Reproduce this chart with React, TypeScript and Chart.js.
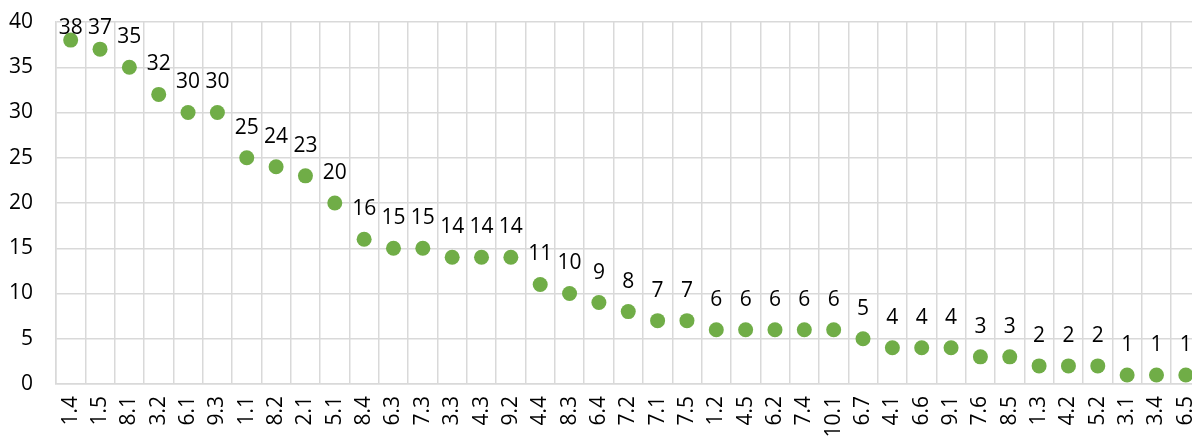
import React, { useEffect, useRef } from "react";
import { Chart, registerables } from "chart.js";

Chart.register(...registerables);

const categories: string[] = [
  "1.4", "1.5", "8.1", "3.2", "6.1", "9.3", "1.1", "8.2", "2.1", "5.1",
  "8.4", "6.3", "7.3", "3.3", "4.3", "9.2", "4.4", "8.3", "6.4", "7.2",
  "7.1", "7.5", "1.2", "4.5", "6.2", "7.4", "10.1", "6.7", "4.1", "6.6",
  "9.1", "7.6", "8.5", "1.3", "4.2", "5.2", "3.1", "3.4", "6.5",
];

const values: number[] = [
  38, 37, 35, 32, 30, 30, 25, 24, 23, 20,
  16, 15, 15, 14, 14, 14, 11, 10, 9, 8,
  7, 7, 6, 6, 6, 6, 6, 5, 4, 4,
  4, 3, 3, 2, 2, 2, 1, 1, 1,
];

const yTicks = { min: 0, max: 40, step: 5 };

const FONT = "'Open Sans', 'Noto Sans', sans-serif";
const FONT_SIZE = 21;
const GREEN = "#70AD47";
const GRID = "#d9d9d9";

const labelPlugin = {
  id: "pointLabels",
  afterDatasetsDraw(chart: any) {
    const ctx = chart.ctx;
    const meta = chart.getDatasetMeta(0);
    const ds = chart.data.datasets[0];
    ctx.save();
    ctx.font = `${FONT_SIZE}px ${FONT}`;
    ctx.fillStyle = "#000";
    ctx.textAlign = "center";
    ctx.textBaseline = "middle";
    meta.data.forEach((pt: any, i: number) => {
      const y = Math.max(pt.y - 30, chart.chartArea.top + 6);
      ctx.fillText(String(ds.data[i]), pt.x, y);
    });
    ctx.restore();
  },
};

const noPad = (s: any) => {
  s.paddingTop = 0;
  s.paddingBottom = 0;
  s.paddingLeft = 0;
  s.paddingRight = 0;
};

export default function App() {
  const ref = useRef<HTMLCanvasElement | null>(null);

  useEffect(() => {
    if (!ref.current) return;
    const chart = new Chart(ref.current, {
      type: "line",
      data: {
        labels: categories,
        datasets: [
          {
            data: values,
            showLine: false,
            pointRadius: 7.5,
            pointHoverRadius: 7.5,
            pointBackgroundColor: GREEN,
            pointBorderColor: GREEN,
            pointBorderWidth: 0,
            backgroundColor: GREEN,
            borderColor: GREEN,
          },
        ],
      },
      options: {
        responsive: false,
        animation: false,
        layout: { padding: { top: 22, left: 0, right: 0, bottom: 0 } },
        plugins: {
          legend: { display: false },
          tooltip: { enabled: false },
          title: { display: false },
        },
        scales: {
          x: {
            type: "category",
            offset: true,
            grid: { offset: true, color: GRID, lineWidth: 1.5, drawTicks: false },
            border: { color: GRID, width: 1.5 },
            ticks: {
              autoSkip: false,
              minRotation: 90,
              maxRotation: 90,
              padding: 12,
              color: "#000",
              font: { family: FONT, size: FONT_SIZE },
            },
            afterFit: (s: any) => {
              s.height = 56;
              noPad(s);
            },
          },
          y: {
            min: yTicks.min,
            max: yTicks.max,
            grid: { color: GRID, lineWidth: 1.5, drawTicks: false },
            border: { color: GRID, width: 1.5 },
            ticks: {
              stepSize: yTicks.step,
              padding: 23,
              color: "#000",
              font: { family: FONT, size: FONT_SIZE },
            },
            afterFit: (s: any) => {
              s.width = 56;
              noPad(s);
            },
          },
        },
      },
      plugins: [labelPlugin],
    });
    return () => chart.destroy();
  }, []);

  return (
    <div
      style={{
        position: "fixed",
        left: 0,
        top: 0,
        width: 1192,
        height: 436,
        overflow: "hidden",
        background: "#fff",
      }}
    >
      <canvas ref={ref} width={1208} height={440} style={{ display: "block" }} />
    </div>
  );
}
